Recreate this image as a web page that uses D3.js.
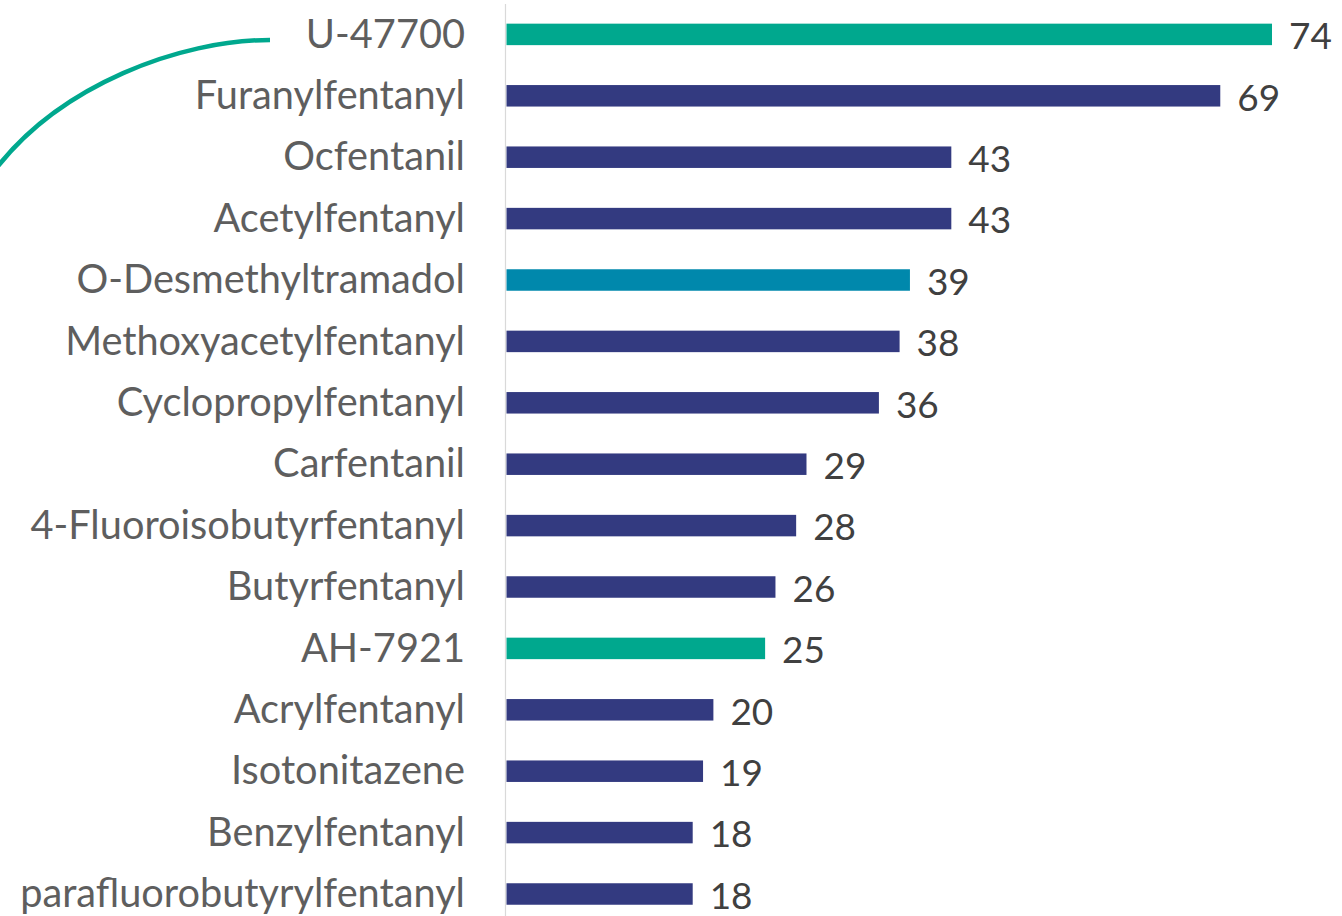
<!DOCTYPE html>
<html>
<head>
<meta charset="utf-8">
<script src="https://cdn.jsdelivr.net/npm/d3@7"></script>
<style>
  html, body { margin: 0; padding: 0; background: #ffffff; }
  svg { display: block; }
</style>
</head>
<body>
<script>
// ---- data ----
const categories = [
  "U-47700", "Furanylfentanyl", "Ocfentanil", "Acetylfentanyl",
  "O-Desmethyltramadol", "Methoxyacetylfentanyl", "Cyclopropylfentanyl",
  "Carfentanil", "4-Fluoroisobutyrfentanyl", "Butyrfentanyl", "AH-7921",
  "Acrylfentanyl", "Isotonitazene", "Benzylfentanyl", "parafluorobutyrylfentanyl"
];
const values = [74, 69, 43, 43, 39, 38, 36, 29, 28, 26, 25, 20, 19, 18, 18];
const groups = [
  "other", "fentanyl", "fentanyl", "fentanyl", "tramadol", "fentanyl", "fentanyl",
  "fentanyl", "fentanyl", "fentanyl", "other", "fentanyl", "fentanyl", "fentanyl", "fentanyl"
];
const groupNames = ["other", "fentanyl", "tramadol"];

// ---- layout / styles ----
const W = 1342, H = 916;
const palette = ["#00a88e", "#333a80", "#0088ac"];
const color = d3.scaleOrdinal().domain(groupNames).range(palette);

const svg = d3.select("body").append("svg").attr("width", W).attr("height", H);

const x = d3.scaleLinear().domain([0, 74]).range([506.5, 1272]);
const y = d3.scaleBand().domain(categories).range([3.7, 3.7 + 15 * 61.4]).paddingInner(0.65).paddingOuter(0.325);

const font = "Lato, 'Open Sans', sans-serif";

// fit font size to the widest label (445 px wide in the reference)
const probe = svg.append("text").attr("font-family", font).attr("font-size", 100)
  .text("parafluorobutyrylfentanyl");
const fs = 100 * 445 / probe.node().getComputedTextLength();
probe.remove();

// decorative curve
svg.append("path")
  .attr("d", "M270,40 C180,40 60,85 -5,170")
  .attr("fill", "none")
  .attr("stroke", palette[0])
  .attr("stroke-width", 4.5);

// axis line (category axis)
svg.append("line")
  .attr("x1", 505.5).attr("x2", 505.5)
  .attr("y1", 4).attr("y2", H)
  .attr("stroke", "#d9d9d9").attr("stroke-width", 1.2);

const rows = categories.map((c, i) => ({ c, v: values[i], g: groups[i] }));

svg.selectAll("rect.bar").data(rows).join("rect")
  .attr("class", "bar")
  .attr("x", x(0))
  .attr("y", d => y(d.c))
  .attr("width", d => x(d.v) - x(0))
  .attr("height", y.bandwidth())
  .attr("fill", d => color(d.g));

svg.selectAll("text.cat").data(rows).join("text")
  .attr("class", "cat")
  .attr("x", 465)
  .attr("y", d => y(d.c) + y.bandwidth() / 2)
  .attr("dy", "0.33em")
  .attr("text-anchor", "end")
  .attr("font-family", font)
  .attr("font-size", fs)
  .attr("fill", "#5e5e5e")
  .text(d => d.c);

svg.selectAll("text.val").data(rows).join("text")
  .attr("class", "val")
  .attr("x", d => x(d.v) + 17)
  .attr("y", d => y(d.c) + y.bandwidth() / 2)
  .attr("dy", "0.4em")
  .attr("font-family", font)
  .attr("font-size", fs * 0.93)
  .attr("fill", "#404040")
  .text(d => d.v);
</script>
</body>
</html>
